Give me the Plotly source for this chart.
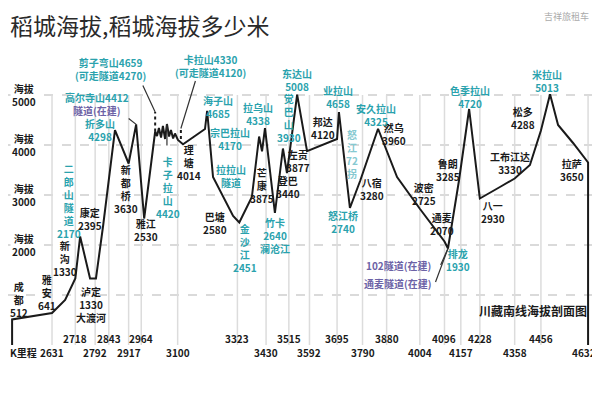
import plotly.graph_objects as go

# 川藏南线海拔剖面 (G318 里程 km / 海拔 m)
route_km = [2482, 2482, 2631, 2680, 2718, 2736, 2773, 2795, 2822, 2866, 2917, 2945, 2975,
            3016, 3023, 3030, 3038, 3045, 3053, 3060, 3068, 3075, 3083, 3090, 3101, 3120,
            3202, 3210, 3232, 3307, 3330, 3377, 3404, 3415, 3426, 3463, 3493, 3508, 3546, 3583,
            3695, 3702, 3743, 3781, 3848, 3874, 3919, 4004, 4096, 4109, 4150, 4188, 4228, 4303,
            4358, 4415, 4456, 4490, 4520, 4576, 4632, 4632]
route_elev = [0, 512, 641, 900, 1330, 2170, 1330, 1330, 2395, 4298, 3630, 4412, 2530,
              4270, 4180, 4340, 4150, 4380, 4120, 4420, 4170, 4300, 4130, 4230, 4100, 4014,
              4320, 4685, 3360, 2580, 2451, 2960, 4170, 3875, 4338, 2640, 3930, 3440, 5008, 3877,
              4120, 4658, 2740, 3280, 4325, 3960, 3360, 2725, 2070, 1930, 3285, 4720, 2930, 3160,
              3330, 3600, 4288, 5013, 4400, 4040, 3650, 0]

# 隧道（虚线）: 里程, 隧道口海拔, 山顶海拔
tunnel_km = [3016, 3112]
tunnel_low = [4270, 4120]
tunnel_high = [4659, 4330]

upper_ticks = [2718, 2843, 2964, 3323, 3515, 3695, 3880, 4096, 4228, 4456]
lower_ticks = [2631, 2792, 2917, 3100, 3430, 3592, 3790, 4004, 4157, 4358, 4632]
elev_lines = [1000, 2000, 3000, 4000, 5000]
elev_labels = [2000, 3000, 4000, 5000]

BLACK = "#1a1a1a"
CYAN = "#2aa2ad"
PURPLE = "#6c62a6"
LIGHT = "#86c9d1"
FONT = "Noto Sans CJK SC"

# (文字, 里程, 海拔, 颜色)
labels = [
    ("雅<br>安<br>641", 2612, 1060, BLACK),
    ("新<br>沟<br>1330", 2680, 1740, BLACK),
    ("泸定<br>1330<br>大渡河", 2777, 820, BLACK),
    ("康定<br>2395", 2773, 2520, BLACK),
    ("新<br>都<br>桥<br>3630", 2907, 3120, BLACK),
    ("雅江<br>2530", 2982, 2300, BLACK),
    ("理<br>塘<br>4014", 3142, 3660, BLACK),
    ("巴塘<br>2580", 3240, 2440, BLACK),
    ("芒<br>康<br>3875", 3415, 3200, BLACK),
    ("登巴<br>3440", 3512, 3160, BLACK),
    ("左贡<br>3877", 3549, 3680, BLACK),
    ("邦达<br>4120", 3643, 4340, BLACK),
    ("八宿<br>3280", 3826, 3120, BLACK),
    ("然乌<br>3960", 3908, 4220, BLACK),
    ("波密<br>2725", 4020, 3020, BLACK),
    ("通麦<br>2070", 4087, 2420, BLACK),
    ("鲁朗<br>3285", 4109, 3500, BLACK),
    ("八一<br>2930", 4277, 2660, BLACK),
    ("工布江达<br>3330", 4341, 3640, BLACK),
    ("松多<br>4288", 4389, 4540, BLACK),
    ("拉萨<br>3650", 4572, 3500, BLACK),
    ("二<br>郎<br>山<br>隧<br>道<br>2170", 2694, 2880, CYAN),
    ("折多山<br>4298", 2810, 4300, CYAN),
    ("高尔寺山4412", 2799, 4960, CYAN),
    ("隧道(在建)", 2799, 4700, PURPLE),
    ("剪子弯山4659<br>(可走隧道4270)", 2848, 5520, CYAN),
    ("卡拉山4330<br>(可走隧道4120)", 3221, 5580, CYAN),
    ("卡<br>子<br>拉<br>山<br>4420", 3064, 3160, CYAN),
    ("海子山<br>4685", 3251, 4760, CYAN),
    ("宗巴拉山<br>4170", 3295, 4120, CYAN),
    ("拉拉山<br>隧道", 3299, 3380, CYAN),
    ("金<br>沙<br>江<br>2451", 3351, 1940, CYAN),
    ("拉乌山<br>4338", 3400, 4620, CYAN),
    ("觉<br>巴<br>山<br>3930", 3516, 4540, CYAN),
    ("竹卡<br>2640<br>澜沧江", 3463, 2200, CYAN),
    ("东达山<br>5008", 3546, 5300, CYAN),
    ("业拉山<br>4658", 3699, 4960, CYAN),
    ("怒<br>江<br>72<br>拐", 3751, 3820, LIGHT),
    ("怒江桥<br>2740", 3717, 2460, CYAN),
    ("安久拉山<br>4325", 3840, 4600, CYAN),
    ("排龙<br>1930", 4147, 1700, CYAN),
    ("色季拉山<br>4720", 4191, 4960, CYAN),
    ("米拉山<br>5013", 4479, 5280, CYAN),
    ("102隧道(在建)", 3923, 1600, PURPLE),
    ("通麦隧道(在建)", 3923, 1240, PURPLE),
]

# 指示线: 指向的点(里程, 海拔), 线尾像素偏移
pointers = [
    (2945, 4412, -9, -7),
    (3016, 4659, -13, -28),
    (3112, 4330, 15, -49),
    (3060, 4420, 0, 23),
    (4109, 1930, -8, 18),
    (4109, 1930, -13, 35),
]

fig = go.Figure()

# 纵向网格
for k in upper_ticks + lower_ticks:
    fig.add_shape(type="line", x0=k, x1=k, y0=0, y1=5000,
                  line=dict(color="#dcdcdc", width=1.5), layer="below")
# 海拔虚线
for e in elev_lines:
    fig.add_shape(type="line", xref="paper", x0=0, x1=0.99, y0=e, y1=e,
                  line=dict(color="#b5b5b5", width=1, dash="dash"), layer="below")

fig.add_trace(go.Scatter(x=route_km, y=route_elev, mode="lines",
                         line=dict(color=BLACK, width=2), hoverinfo="skip"))

tx, ty = [], []
for k, lo, hi in zip(tunnel_km, tunnel_low, tunnel_high):
    tx += [k, k, None]
    ty += [lo, hi, None]
fig.add_trace(go.Scatter(x=tx, y=ty, mode="lines",
                         line=dict(color=BLACK, width=2, dash="dot"), hoverinfo="skip"))

lab_font = dict(family=FONT, size=10, color=BLACK, weight="bold")

# 成都贴着左边
fig.add_annotation(x=2467, y=920, xanchor="left", text="成<br>都<br>512",
                   showarrow=False, font=lab_font)

for text, k, e, c in labels:
    fig.add_annotation(x=k, y=e, text=text, showarrow=False,
                       font=dict(family=FONT, size=10, color=c, weight="bold"))

for k, e, ax, ay in pointers:
    fig.add_annotation(x=k, y=e, text="", showarrow=True, arrowhead=0,
                       arrowwidth=1.2, arrowcolor="#333", ax=ax, ay=ay)

for e in elev_labels:
    fig.add_annotation(x=2527, y=e, text=f"海拔<br>{e}", showarrow=False,
                       bgcolor="white", font=lab_font)

for k in upper_ticks:
    fig.add_annotation(x=k, y=140, text=str(k), showarrow=False, font=lab_font)
for k in lower_ticks:
    last = k == lower_ticks[-1]
    fig.add_annotation(x=k, y=-140, text=str(k), showarrow=False, font=lab_font,
                       xanchor="right" if last else "center", xshift=10 if last else 0)
fig.add_annotation(x=2467, y=-140, xanchor="left", text="K里程", showarrow=False,
                   font=lab_font)

fig.add_annotation(x=4427, y=700, text="川藏南线海拔剖面图", showarrow=False,
                   font=dict(family=FONT, size=12, color=BLACK, weight="bold"))

fig.add_annotation(xref="paper", yref="paper", x=0, y=1.045, xanchor="left", yanchor="middle",
                   text="稻城海拔,稻城海拔多少米", showarrow=False,
                   font=dict(family=FONT, size=23, color="#2a2a2a"))
fig.add_annotation(xref="paper", yref="paper", x=0.985, y=1.07, xanchor="right", yanchor="middle",
                   text="吉祥旅租车", showarrow=False,
                   font=dict(family=FONT, size=9, color="#aaaaaa"))

# 页面自带 8px 边距, 图宽高相应减去
fig.update_layout(
    width=592, height=392,
    margin=dict(l=0, r=0, t=32, b=30),
    paper_bgcolor="white", plot_bgcolor="white",
    showlegend=False,
    xaxis=dict(range=[2466.7, 4676.5], visible=False, fixedrange=True),
    yaxis=dict(range=[-500, 6100], visible=False, fixedrange=True),
)

fig.write_html("out.html")
